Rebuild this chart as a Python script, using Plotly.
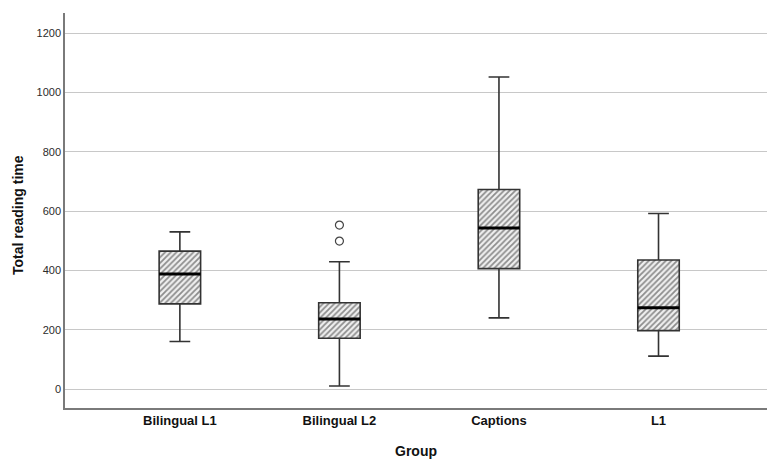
import plotly.graph_objects as go

groups = ["Bilingual L1", "Bilingual L2", "Captions", "L1"]
lower = [160, 10, 240, 111]
q1 = [287, 171, 406, 197]
median = [388, 236, 543, 274]
q3 = [465, 291, 673, 435]
upper = [530, 429, 1052, 592]
outlier_group = [1, 1]
outlier_values = [553, 499]
y_ticks = [0, 200, 400, 600, 800, 1000, 1200]

pos = list(range(len(groups)))
bw = 0.26

fig = go.Figure()

# hatched box bodies
fig.add_trace(go.Bar(
    x=pos, y=[b - a for a, b in zip(q1, q3)], base=q1, width=bw,
    marker=dict(color="#f0f0f0", line=dict(width=0),
                pattern=dict(shape="/", fgcolor="#2a2a2a", bgcolor="#f0f0f0",
                             size=4, solidity=0.45)),
    hoverinfo="skip", showlegend=False))

fig.add_trace(go.Box(
    x=pos, q1=q1, median=median, q3=q3, lowerfence=lower, upperfence=upper,
    width=bw, whiskerwidth=0.5, fillcolor="rgba(0,0,0,0)",
    line=dict(color="#333333", width=1.6), boxpoints=False, showlegend=False))

# thick medians
for i, m in enumerate(median):
    fig.add_trace(go.Scatter(
        x=[pos[i] - bw / 2, pos[i] + bw / 2], y=[m, m], mode="lines",
        line=dict(color="#000000", width=3), hoverinfo="skip", showlegend=False))

fig.add_trace(go.Scatter(
    x=[pos[g] for g in outlier_group], y=outlier_values, mode="markers",
    marker=dict(symbol="circle-open", size=8, color="#444444", line=dict(width=1.2)),
    showlegend=False))

fig.update_layout(
    width=767, height=459, barmode="overlay",
    margin=dict(l=65, r=0, t=13, b=51),
    paper_bgcolor="white", plot_bgcolor="white",
    font=dict(family="Liberation Sans, Arial, sans-serif", color="#222222"),
    xaxis=dict(range=[-0.72, 3.68], tickvals=pos, ticktext=groups, automargin=False,
               tickfont=dict(size=13, color="#111111", weight="bold"),
               showgrid=False, zeroline=False, showline=True, linecolor="#7a7a7a",
               linewidth=1.5, ticks=""),
    yaxis=dict(range=[-64, 1268], tickvals=y_ticks, ticks="", automargin=False,
               tickfont=dict(size=11, color="#2b2b2b"),
               showgrid=True, gridcolor="#c8c8c8", gridwidth=1, zeroline=False,
               showline=True, linecolor="#7a7a7a", linewidth=1.5),
    annotations=[
        dict(text="Group", xref="paper", yref="paper", x=(416 - 65) / 702, y=-(451 - 408) / 395,
             xanchor="center", yanchor="middle", showarrow=False,
             font=dict(size=14, color="#111111", weight="bold")),
        dict(text="Total reading time", xref="paper", yref="paper", x=-(65 - 18) / 702,
             y=(408 - 215) / 395, xanchor="center", yanchor="middle", textangle=-90,
             showarrow=False, font=dict(size=14, color="#111111", weight="bold")),
    ],
)

fig.write_html("out.html", config={"displayModeBar": False},
               post_script="document.body.style.margin='0';document.body.style.overflow='hidden';")
